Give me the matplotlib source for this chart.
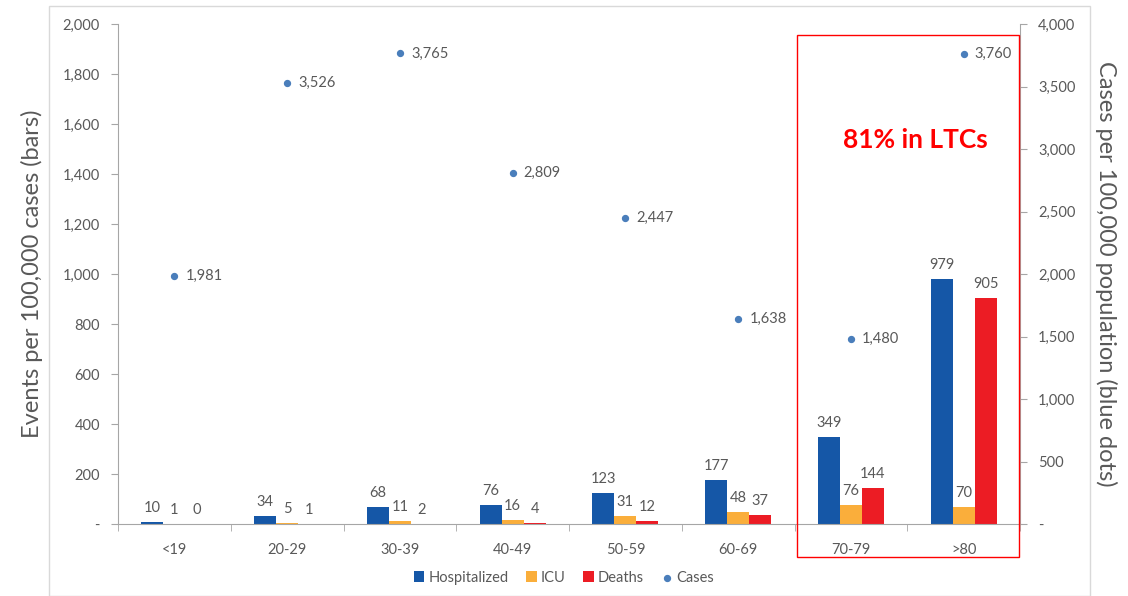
import numpy as np
import matplotlib.pyplot as plt
from matplotlib.patches import Rectangle
from matplotlib.ticker import FuncFormatter

plt.rcParams['font.family'] = ['Lato', 'DejaVu Sans']

# data
ages = ['<19', '20-29', '30-39', '40-49', '50-59', '60-69', '70-79', '>80']
hospitalized = [10, 34, 68, 76, 123, 177, 349, 979]
icu = [1, 5, 11, 16, 31, 48, 76, 70]
deaths = [0, 1, 2, 4, 12, 37, 144, 905]
cases = [1981, 3526, 3765, 2809, 2447, 1638, 1480, 3760]

c_hosp = '#1557A7'
c_icu = '#FAAE3B'
c_death = '#EC1C24'
c_case = '#4A7EBB'
grey = '#595959'
spine = '#A6A6A6'

fig = plt.figure(figsize=(11.28, 5.96), dpi=100)
ax = fig.add_axes([0.1046, 0.1208, 0.7997, 0.8389])
ax2 = ax.twinx()

x = np.arange(len(ages))
w = 0.195

series = [(hospitalized, c_hosp, 'Hospitalized', -w),
          (icu, c_icu, 'ICU', 0.0),
          (deaths, c_death, 'Deaths', w)]
handles = []
for vals, col, lab, off in series:
    b = ax.bar(x + off, vals, w, color=col, label=lab, zorder=2)
    handles.append(b)
    for xi, v in zip(x, vals):
        ax.annotate(str(v), (xi + off, v), xytext=(0, 5), textcoords='offset points',
                    ha='center', va='bottom', fontsize=10.5, color=grey)

sc = ax2.scatter(x, cases, s=18, color=c_case, label='Cases', zorder=3)
for xi, v in zip(x, cases):
    ax2.annotate(f'{v:,}', (xi, v), xytext=(8, 0), textcoords='offset points',
                 ha='left', va='center', fontsize=10.5, color=grey)

ax.set_xlim(-0.5, len(ages) - 0.5)
ax.set_ylim(0, 2000)
ax2.set_ylim(0, 4000)
ax.set_yticks(np.arange(0, 2001, 200))
ax2.set_yticks(np.arange(0, 4001, 500))

fmt = FuncFormatter(lambda v, p: '-' if v == 0 else f'{int(v):,}')
ax.yaxis.set_major_formatter(fmt)
ax2.yaxis.set_major_formatter(fmt)

ax.set_xticks(x)
ax.set_xticklabels(ages)
ax.set_xticks(np.arange(-0.5, len(ages)), minor=True)
ax.tick_params(axis='x', which='major', length=0, pad=14, labelsize=10.5, labelcolor=grey)
ax.tick_params(axis='x', which='minor', length=5, direction='out', color=spine)
ax.tick_params(axis='y', length=5, color=spine, labelsize=10.5, labelcolor=grey, pad=8)
ax2.tick_params(axis='y', length=5, color=spine, labelsize=10.5, labelcolor=grey, pad=8)

for a in (ax, ax2):
    a.spines['top'].set_visible(False)
    for s in ('left', 'right', 'bottom'):
        a.spines[s].set_color(spine)
ax.spines['right'].set_visible(False)
ax2.spines['left'].set_visible(False)
ax2.spines['bottom'].set_visible(False)

ax.set_ylabel('Events per 100,000 cases (bars)', fontsize=17, color=grey, labelpad=14)
ax2.set_ylabel('Cases per 100,000 population (blue dots)', fontsize=17, color=grey,
               rotation=270, labelpad=30)

leg = fig.legend(handles + [sc], ['Hospitalized', 'ICU', 'Deaths', 'Cases'],
                 loc='center', bbox_to_anchor=(0.5, 0.031), ncol=4, frameon=False,
                 fontsize=10.5, handlelength=0.7, handleheight=0.7, handletextpad=0.3,
                 columnspacing=1.2, labelcolor=grey)

# chart area border and highlight box
fig.patches.append(Rectangle((49 / 1128, 0), (1090 - 49) / 1128, 1 - 6 / 596,
                             transform=fig.transFigure, fill=False, edgecolor='#D9D9D9', lw=1))
fig.patches.append(Rectangle((797 / 1128, 1 - 557 / 596), (1019 - 797) / 1128, (557 - 35) / 596,
                             transform=fig.transFigure, fill=False, edgecolor='#FF0000', lw=1))
fig.text(915 / 1128, 1 - 140 / 596, '81% in LTCs', color='#FF0000', fontsize=19,
         fontweight='bold', ha='center', va='center')

fig.savefig('out.png', dpi=100)
